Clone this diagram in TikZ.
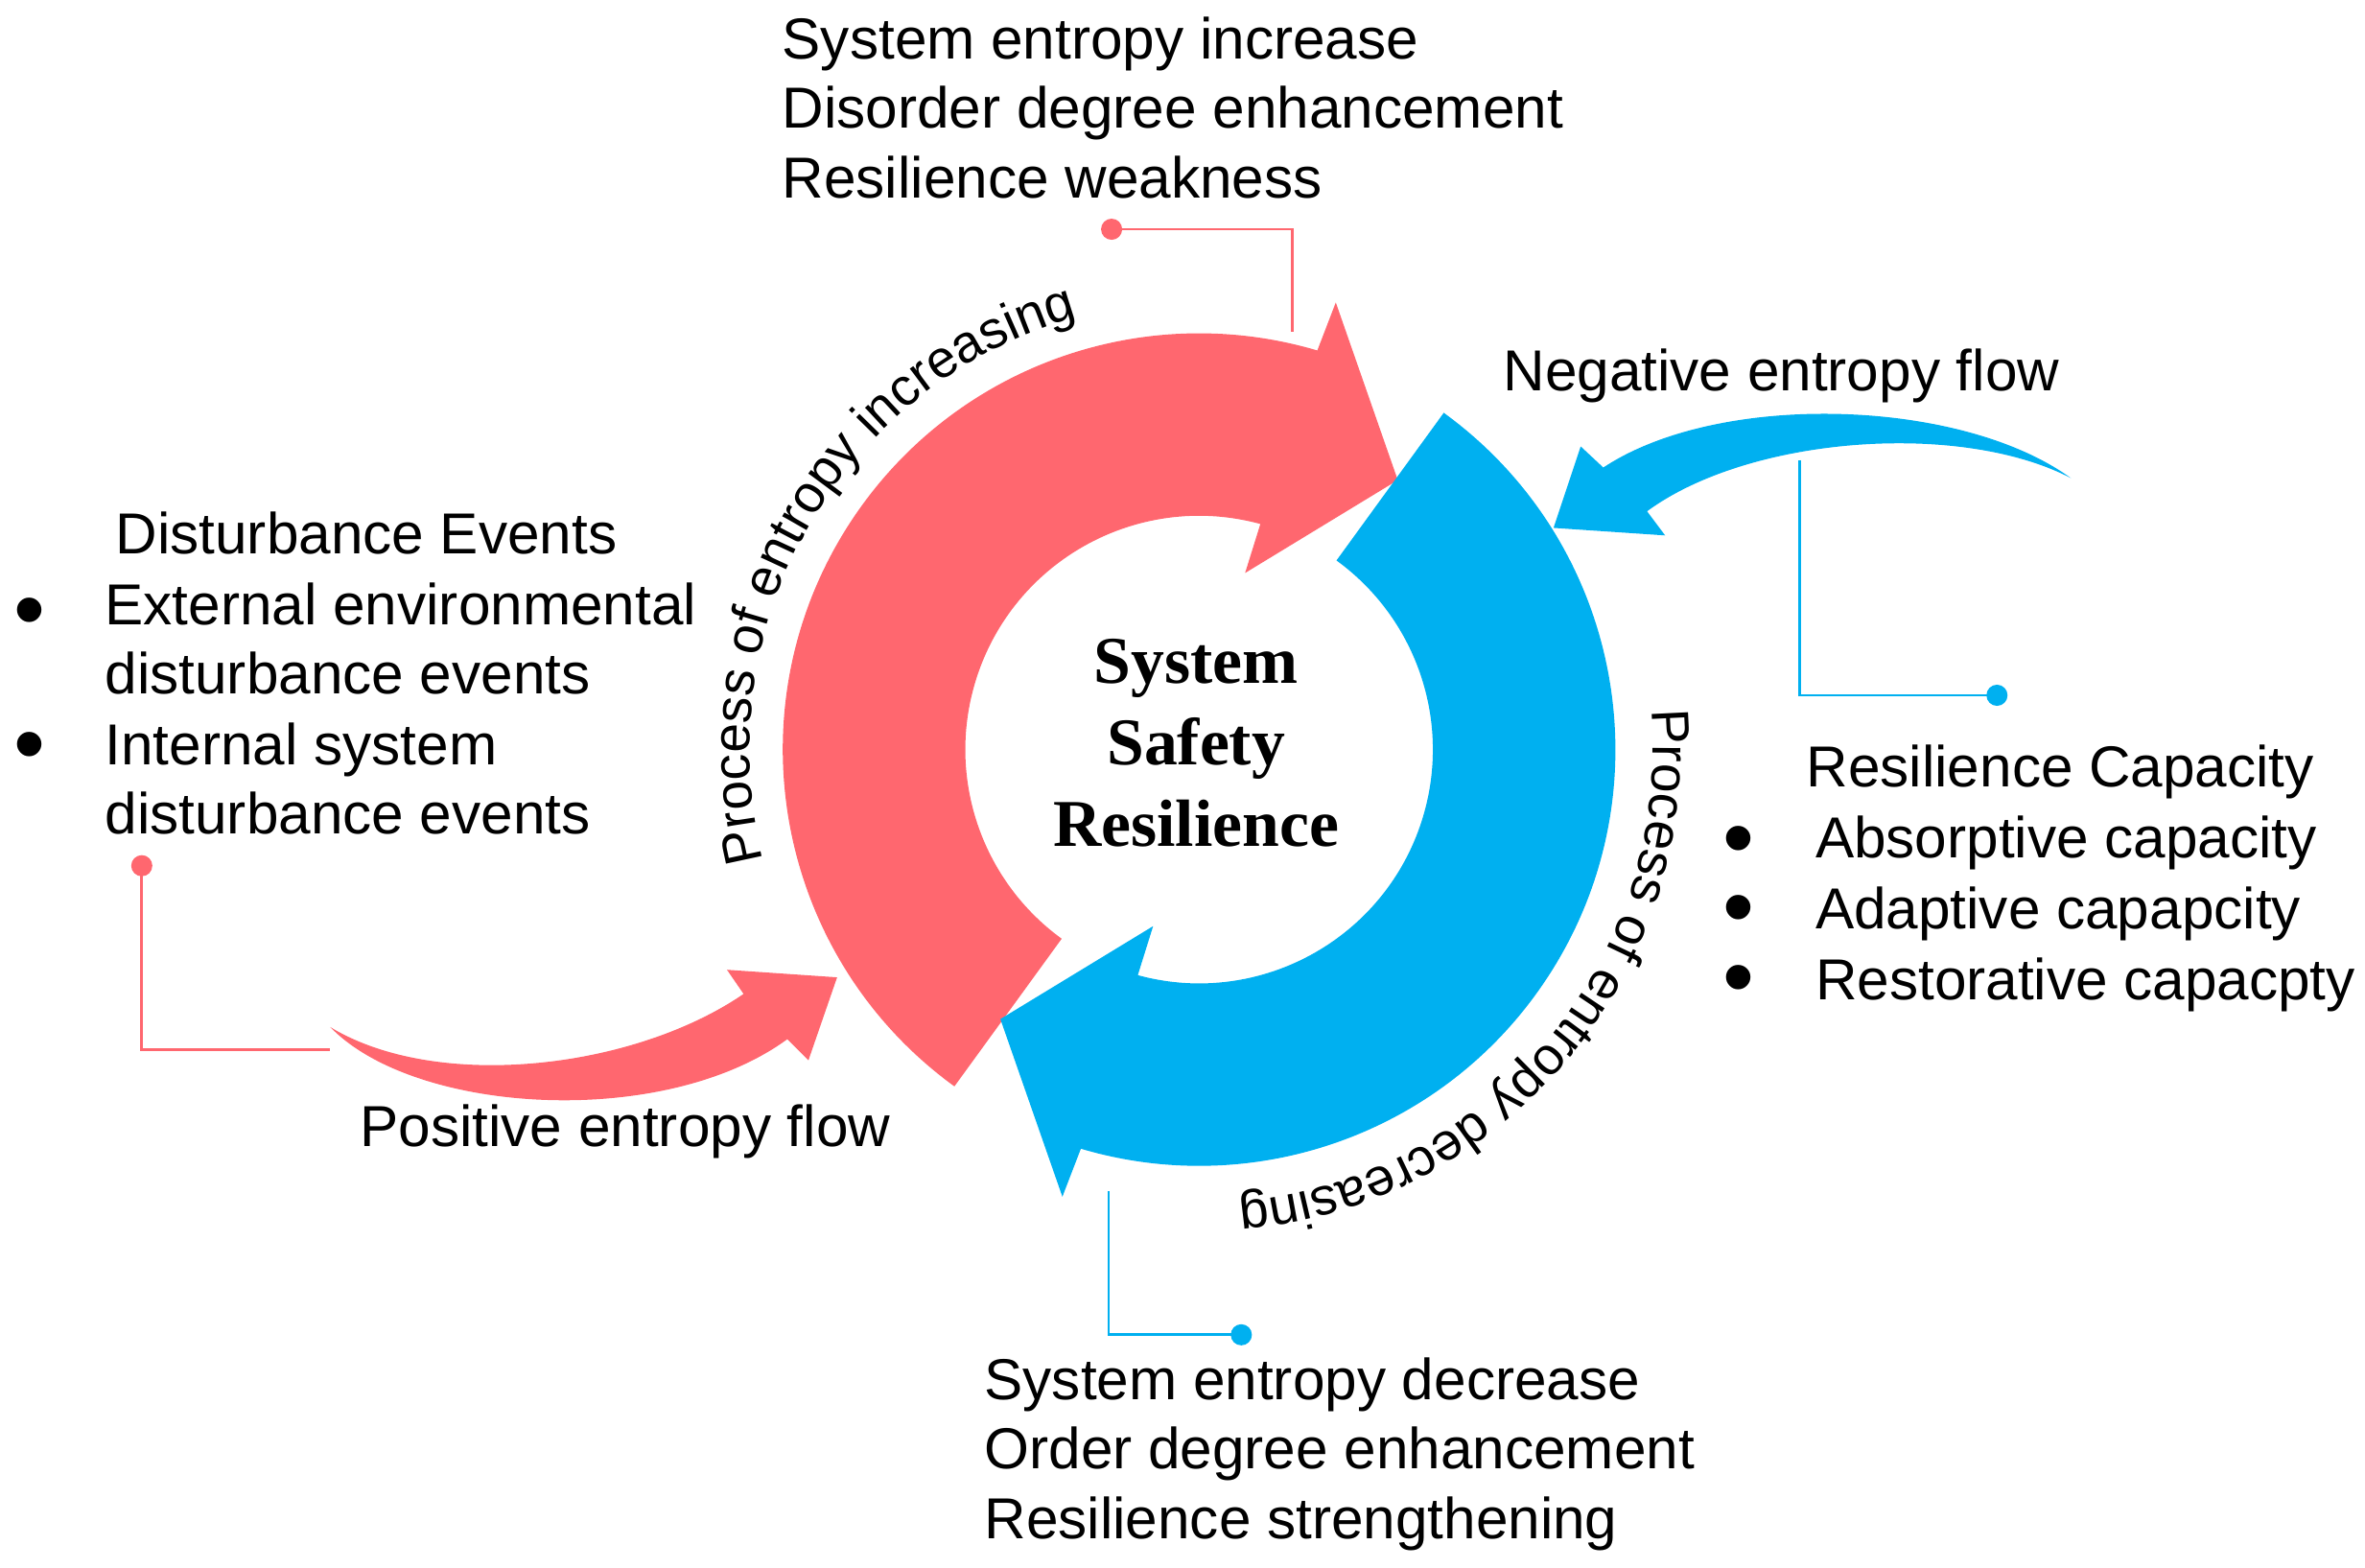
\documentclass[tikz,border=0pt]{standalone}
\usepackage{fontspec}
\setmainfont{Liberation Sans}
\newfontfamily\cserif{Liberation Serif}
\usetikzlibrary{decorations.text}
\definecolor{redc}{RGB}{255,103,111}
\definecolor{bluec}{RGB}{0,176,240}
\begin{document}
\begin{tikzpicture}[x=0.01cm,y=0.01cm,
  txt/.style={inner sep=0pt, anchor=base west, font=\fontsize{10.9pt}{13pt}\selectfont},
  bul/.style={inner sep=0pt, anchor=base, font=\fontsize{17pt}{20pt}\selectfont},
  ctr/.style={inner sep=0pt, anchor=base, font=\cserif\bfseries\fontsize{12.6pt}{15pt}\selectfont},
  dotr/.style={circle, fill=redc, inner sep=0pt, minimum size=0.14cm},
  dotb/.style={circle, fill=bluec, inner sep=0pt, minimum size=0.14cm},
  linr/.style={draw=redc, line width=0.5pt},
  linb/.style={draw=bluec, line width=0.5pt}]
\useasboundingbox (0,0) rectangle (1568,1039);
\coordinate (C) at (795,542);

% ring arrows
\begin{scope}[shift={(795,542)}]
\fill[redc] (234:276) arc[start angle=234, end angle=73.5, radius=276] -- (73:310) -- (53.6:222) -- (75.4:121) -- (74.8:155) arc[start angle=74.8, end angle=234, radius=155] -- cycle;
\end{scope}
\begin{scope}[shift={(795,542)}, rotate=180]
\fill[bluec] (234:276) arc[start angle=234, end angle=73.5, radius=276] -- (73:310) -- (53.6:222) -- (75.4:121) -- (74.8:155) arc[start angle=74.8, end angle=234, radius=155] -- cycle;
\end{scope}

% flow arrows
\fill[redc] (219,358) .. controls (275,300) and (440,290) .. (522,350) -- (536,336) -- (555,391) -- (482,396) -- (493,380) .. controls (420,330) and (290,315) .. (219,358) -- cycle;
\fill[bluec] (1373,722) .. controls (1300,775) and (1140,780) .. (1063,729) -- (1048,743) -- (1030,689) -- (1104,684) -- (1092,700) .. controls (1160,750) and (1300,760) .. (1373,722) -- cycle;

% curved labels
\path[decorate, decoration={text along path, text align=center,
  text={|\fontsize{9.96pt}{12pt}\selectfont|Process of entropy increasing}}]
  ([shift={(200:298)}]C) arc[start angle=200, end angle=100, radius=298];
\path[decorate, decoration={text along path, text align=center,
  text={|\fontsize{9.96pt}{12pt}\selectfont|Process of entropy decreasing}}]
  ([shift={(10:301)}]C) arc[start angle=10, end angle=-90, radius=301];

% center
\node[ctr] (c1) at (793,586) {System};
\node[ctr] (c2) at (793,532) {Safety};
\node[ctr] (c3) at (793,478) {Resilience};

% top block
\node[txt] (t1) at (518,1000) {System entropy increase};
\node[txt] (t2) at (518,954) {Disorder degree enhancement};
\node[txt] (t3) at (518,908) {Resilience weakness};

% left block
\node[txt] (l0) at (76,672) {Disturbance Events};
\node[bul] (lb1) at (20,614.5) {\textbullet};
\node[txt] (l1) at (69,625) {External environmental};
\node[txt] (l2) at (69,579) {disturbance events};
\node[bul] (lb2) at (20,525.5) {\textbullet};
\node[txt] (l3) at (69,532) {Internal system};
\node[txt] (l4) at (69,486) {disturbance events};

% right block
\node[txt] (r0) at (1197,517) {Resilience Capacity};
\node[bul] (rb1) at (1153,463.5) {\textbullet};
\node[txt] (r1) at (1203,470) {Absorptive capacity};
\node[bul] (rb2) at (1153,417.5) {\textbullet};
\node[txt] (r2) at (1203,423) {Adaptive capapcity};
\node[bul] (rb3) at (1153,371) {\textbullet};
\node[txt] (r3) at (1203,376) {Restorative capacpty};

% bottom block
\node[txt] (b1) at (652,111) {System entropy decrease};
\node[txt] (b2) at (652,65) {Order degree enhancement};
\node[txt] (b3) at (652,19) {Resilience strengthening};

% flow labels
\node[txt] (pf) at (238,279) {Positive entropy flow};
\node[txt] (nf) at (996,780) {Negative entropy flow};

% callout connectors
\node[dotr] (dA) at (737,887) {};
\coordinate (eA) at (857,819);
\draw[linr] (dA.center) -| (eA);

\node[dotr] (dB) at (94,465) {};
\coordinate (eB) at (219,343);
\draw[linr] (dB.center) |- (eB);

\coordinate (sC) at (1193,734);
\node[dotb] (dC) at (1324,578) {};
\draw[linb] (sC) |- (dC.center);

\coordinate (sD) at (735,249);
\node[dotb] (dD) at (823,154) {};
\draw[linb] (sD) |- (dD.center);
\end{tikzpicture}
\end{document}
